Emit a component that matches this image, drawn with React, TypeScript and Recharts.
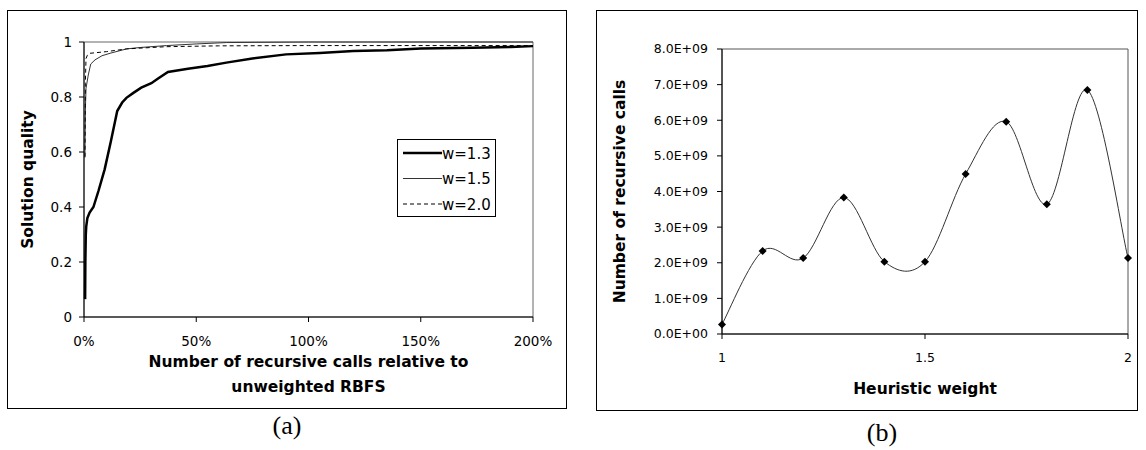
import { LineChart, Line, XAxis, YAxis, ReferenceArea, Legend, Label } from "recharts";

// (a) solution quality vs. recursive calls (% of unweighted RBFS)
const qualityTicks = [0, 0.2, 0.4, 0.6, 0.8, 1];
const pctTicks = [0, 50, 100, 150, 200];

const w13Pct = [0.5, 0.6, 0.8, 1.0, 1.5, 2.5, 4.2, 6.5, 9.2, 12, 14.8, 17, 18.9, 22, 25.5, 30, 33, 37.4, 46.3, 55, 63.4, 75, 90, 105, 120, 135, 150, 173, 190, 200];
const w13Quality = [0.065, 0.2, 0.3, 0.33, 0.36, 0.38, 0.4, 0.46, 0.537, 0.64, 0.749, 0.78, 0.797, 0.815, 0.834, 0.85, 0.867, 0.891, 0.903, 0.913, 0.925, 0.94, 0.955, 0.96, 0.967, 0.97, 0.976, 0.979, 0.982, 0.985];

const w15Pct = [0.4, 0.6, 0.9, 1.9, 3, 4.9, 8, 11.6, 19, 25, 36.8, 50, 63.6, 100, 200];
const w15Quality = [0.58, 0.75, 0.832, 0.88, 0.92, 0.935, 0.95, 0.959, 0.975, 0.98, 0.987, 0.993, 0.998, 1, 1];

const w20Pct = [0.45, 0.6, 0.9, 1.5, 2.7, 10, 19, 36.8, 60, 100, 200];
const w20Quality = [0.583, 0.85, 0.94, 0.952, 0.959, 0.965, 0.975, 0.983, 0.986, 0.987, 0.987];

// (b) recursive calls vs. heuristic weight
const weights = [1, 1.1, 1.2, 1.3, 1.4, 1.5, 1.6, 1.7, 1.8, 1.9, 2];
const recursiveCalls = [0.27e9, 2.33e9, 2.13e9, 3.83e9, 2.03e9, 2.03e9, 4.49e9, 5.96e9, 3.64e9, 6.85e9, 2.13e9];
const weightTicks = [1, 1.5, 2];
const callTicks = [0, 1e9, 2e9, 3e9, 4e9, 5e9, 6e9, 7e9, 8e9];

const zip = (xs: number[], ys: number[]) => xs.map((x, i) => ({ x, y: ys[i] }));

const series = [
  { name: "w=1.3", data: zip(w13Pct, w13Quality), color: "#000", width: 2.5, dash: undefined as string | undefined },
  { name: "w=1.5", data: zip(w15Pct, w15Quality), color: "#333", width: 1, dash: undefined as string | undefined },
  { name: "w=2.0", data: zip(w20Pct, w20Quality), color: "#000", width: 1, dash: "4 3" },
];
const callData = weights.map((w, i) => ({ w, calls: recursiveCalls[i] }));

const FONT = "'DejaVu Sans', sans-serif";
const tickA = { fontSize: 13.5, fill: "#000", fontFamily: FONT };
const tickB = { fontSize: 12.5, fill: "#000", fontFamily: FONT };
const titleStyle = { fontSize: 15.5, fontWeight: 700, fill: "#000", fontFamily: FONT } as const;

// excel-like smoothed line (catmull-rom through the points)
function excelSmooth(context: any) {
  let pts: number[][] = [];
  return {
    areaStart() {},
    areaEnd() {},
    lineStart() { pts = []; },
    point(x: number, y: number) { pts.push([+x, +y]); },
    lineEnd() {
      if (!pts.length) return;
      context.moveTo(pts[0][0], pts[0][1]);
      for (let i = 0; i < pts.length - 1; i++) {
        const p0 = pts[i - 1] || pts[i], p1 = pts[i], p2 = pts[i + 1], p3 = pts[i + 2] || p2;
        context.bezierCurveTo(
          p1[0] + (p2[0] - p0[0]) / 6, p1[1] + (p2[1] - p0[1]) / 6,
          p2[0] - (p3[0] - p1[0]) / 6, p2[1] - (p3[1] - p1[1]) / 6,
          p2[0], p2[1]
        );
      }
    },
  };
}

const Diamond = (props: any) => {
  const { cx, cy, index } = props;
  if (cx == null || cy == null) return <g key={`d${index}`} />;
  return <path key={`d${index}`} d={`M${cx},${cy - 4}L${cx + 4},${cy}L${cx},${cy + 4}L${cx - 4},${cy}Z`} fill="#000" />;
};

const yTitle = (text: string, x: number) => (props: any) => {
  const vb = props.viewBox;
  const cy = vb.y + vb.height / 2;
  return <text x={x} y={cy} transform={`rotate(-90 ${x} ${cy})`} textAnchor="middle" style={titleStyle}>{text}</text>;
};

const xTitle = (lines: string[], first: number, step: number) => (props: any) => {
  const vb = props.viewBox;
  const cx = vb.x + vb.width / 2;
  return (
    <text textAnchor="middle" style={titleStyle}>
      {lines.map((l, i) => <tspan key={i} x={cx} y={vb.y + first + i * step}>{l}</tspan>)}
    </text>
  );
};

function QualityLegend({ payload }: any) {
  const items = (payload || []).map((p: any) => series.find(s => s.name === p.value)).filter(Boolean);
  return (
    <div style={{ width: 99, height: 78, border: "1px solid #000", boxSizing: "border-box", background: "#fff" }}>
      <svg width={97} height={76} style={{ display: "block" }}>
        {items.map((s: any, i: number) => {
          const y = 13 + i * 25.5;
          return (
            <g key={s.name}>
              <line x1={5} x2={44} y1={y} y2={y} stroke={s.color} strokeWidth={s.width} strokeDasharray={s.dash} />
              <text x={44} y={y + 5.5} style={{ fontSize: 15, fontFamily: FONT, fill: "#000" }}>{s.name}</text>
            </g>
          );
        })}
      </svg>
    </div>
  );
}

const box = { position: "absolute" as const, border: "1px solid #000", boxSizing: "border-box" as const };
const caption = { position: "absolute" as const, width: 60, textAlign: "center" as const, fontFamily: "'Liberation Serif', 'Times New Roman', serif", fontSize: 26, lineHeight: "26px" };

export default function App() {
  return (
    <div style={{ position: "absolute", left: 0, top: 0, width: 1146, height: 450, background: "#fff" }}>
      <div style={{ ...box, left: 7, top: 10, width: 560, height: 399 }} />
      <div style={{ position: "absolute", left: 7, top: 10 }}>
        <LineChart width={559} height={399} margin={{ top: 32, right: 33, left: 0, bottom: 0 }}>
          <ReferenceArea x1={0} x2={200} y1={0} y2={1} fill="none" stroke="#666" strokeWidth={1} />
          <XAxis type="number" dataKey="x" domain={[0, 200]} ticks={pctTicks} tickFormatter={v => `${v}%`}
            height={92} tickSize={5} tickMargin={14} tick={tickA} stroke="#000" interval={0}>
            <Label content={xTitle(["Number of recursive calls relative to", "unweighted RBFS"], 50, 25)} />
          </XAxis>
          <YAxis type="number" dataKey="y" domain={[0, 1]} ticks={qualityTicks} tickFormatter={v => (v === 0 || v === 1 ? String(v) : v.toFixed(1))}
            width={77} tickSize={5} tickMargin={7} tick={tickA} stroke="#000" interval={0}>
            <Label content={yTitle("Solution quality", 26)} />
          </YAxis>
          {series.map(s => (
            <Line key={s.name} name={s.name} data={s.data} dataKey="y" type="linear" stroke={s.color} strokeWidth={s.width}
              strokeDasharray={s.dash} dot={false} activeDot={false} isAnimationActive={false} />
          ))}
          <Legend content={<QualityLegend />} layout="vertical" align="center" verticalAlign="middle"
            wrapperStyle={{ left: 390, top: 129, width: 99, height: 78 }} />
        </LineChart>
      </div>
      <div style={{ ...caption, left: 257, top: 413 }}>(a)</div>

      <div style={{ ...box, left: 596, top: 10, width: 542, height: 401 }} />
      <div style={{ position: "absolute", left: 596, top: 10 }}>
        <LineChart width={541} height={400} data={callData} margin={{ top: 39, right: 9, left: 0, bottom: 0 }}>
          <ReferenceArea x1={1} x2={2} y1={0} y2={8e9} fill="none" stroke="#555" strokeWidth={1} />
          <XAxis type="number" dataKey="w" domain={[1, 2]} ticks={weightTicks} height={76} tickSize={5} tickMargin={14}
            tick={tickB} stroke="#000" interval={0}>
            <Label content={xTitle(["Heuristic weight"], 60, 0)} />
          </XAxis>
          <YAxis type="number" domain={[0, 8e9]} ticks={callTicks}
            tickFormatter={v => (v === 0 ? "0.0E+00" : `${(v / 1e9).toFixed(1)}E+09`)}
            width={126} tickSize={5} tickMargin={9} tick={tickB} stroke="#000" interval={0}>
            <Label content={yTitle("Number of recursive calls", 29)} />
          </YAxis>
          <Line dataKey="calls" type={excelSmooth as any} stroke="#333" strokeWidth={1} dot={Diamond} activeDot={false} isAnimationActive={false} />
        </LineChart>
      </div>
      <div style={{ ...caption, left: 852, top: 420 }}>(b)</div>
    </div>
  );
}
